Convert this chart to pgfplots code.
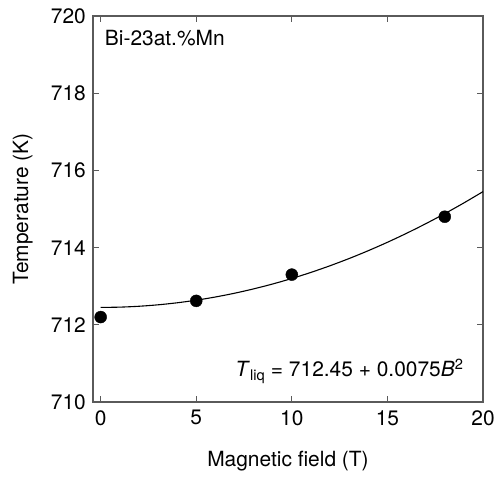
\documentclass[border=0pt]{standalone}
\usepackage{fontspec}
\setmainfont{TeX Gyre Heros}
\usepackage{pgfplots}
\pgfplotsset{compat=1.18}
\definecolor{axgray}{HTML}{5A5A5A}
\begin{document}
\fontsize{21}{25}\selectfont
\begin{tikzpicture}
\begin{axis}[
  scale only axis, width=390bp, height=386bp,
  xmin=-0.4, xmax=20, ymin=710, ymax=720,
  xtick={0,5,10,15,20}, ytick={710,712,...,720},
  tick align=inside, major tick length=6bp,
  tick style={axgray, line width=1pt},
  axis line style={axgray, line width=1.3pt},
  /pgf/number format/assume math mode=true,
  yticklabel style={/pgf/number format/.cd, fixed, precision=0, 1000 sep={}},
  xticklabel style={yshift=-1bp},
  xlabel={Magnetic field (T)}, ylabel={Temperature (K)},
  xlabel style={yshift=-12bp},
  ylabel style={yshift=4bp},
  clip=false]
% fitted curve T = 712.45 + 0.0075 B^2, values listed at 1 T steps
\addplot[black, line width=1.1pt, smooth, no marks] coordinates {
  (0,712.45) (1,712.4575) (2,712.48) (3,712.5175) (4,712.57) (5,712.6375)
  (6,712.72) (7,712.8175) (8,712.93) (9,713.0575) (10,713.2) (11,713.3575)
  (12,713.53) (13,713.7175) (14,713.92) (15,714.1375) (16,714.37)
  (17,714.6175) (18,714.88) (19,715.1575) (20,715.45)};
% measured points
\addplot[only marks, mark=*, mark size=6bp, black] coordinates {
  (0,712.2) (5,712.62) (10,713.3) (18,714.8)};
\node[anchor=west] at (axis cs:-0.15,719.42) {Bi-23at.\%Mn};
\node[anchor=east] at (axis cs:19.35,710.8) {\textit{T}\textsubscript{liq} = 712.45 + 0.0075\textit{B}\textsuperscript{2}};
\coordinate (sw) at (rel axis cs:0,0);
\coordinate (ne) at (rel axis cs:1,1);
\end{axis}
\path[use as bounding box] ([shift={(-93bp,-70bp)}]sw) rectangle ([shift={(19bp,16bp)}]ne);
\end{tikzpicture}
\end{document}
